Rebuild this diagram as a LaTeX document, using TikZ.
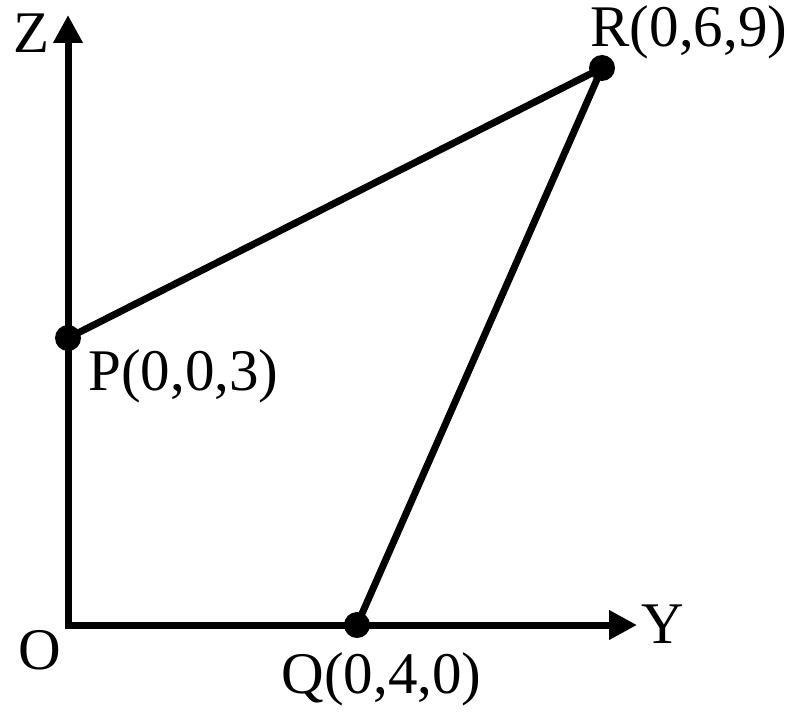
\documentclass[tikz,border=0pt]{standalone}
\usepackage{fontspec}
\setmainfont{Liberation Serif}
\usetikzlibrary{positioning,arrows.meta}

\begin{document}
\begin{tikzpicture}[x=0.5pt, y=-0.5pt, line width=3.5pt, line join=miter,
  pt/.style={circle, fill=black, inner sep=0pt, minimum size=13pt},
  lab/.style={font=\fontsize{29.5}{34}\selectfont, inner sep=0pt, anchor=base west},
  tip/.style={-{Triangle[length=14pt, width=14pt]}}]
\useasboundingbox (0,0) rectangle (790,711);
% axes
\coordinate (O) at (68,625); \coordinate (zt) at (68,15); \coordinate (yt) at (637,625);
\draw[{Triangle[length=14pt, width=14pt]}-{Triangle[length=14pt, width=14pt]}] (zt) -- (O) -- (yt);
% points
\coordinate (p) at (68,338); \coordinate (q) at (357,625); \coordinate (r) at (602,68);
\draw (p) -- (r) -- (q);
\node[pt] (P) at (p) {}; \node[pt] (Q) at (q) {}; \node[pt] (R) at (r) {};
% labels
\node[lab] (zlab) at (10,53) {Z};
\node[lab] (ylab) at (638,643) {Y};
\node[lab] (olab) at (15,669) {O};
\node[lab] (plab) at (85,390) {P(0,0,3)};
\node[lab] (qlab) at (278,693) {Q(0,4,0)};
\node[lab] (rlab) at (587,47) {R(0,6,9)};
\end{tikzpicture}
\end{document}
